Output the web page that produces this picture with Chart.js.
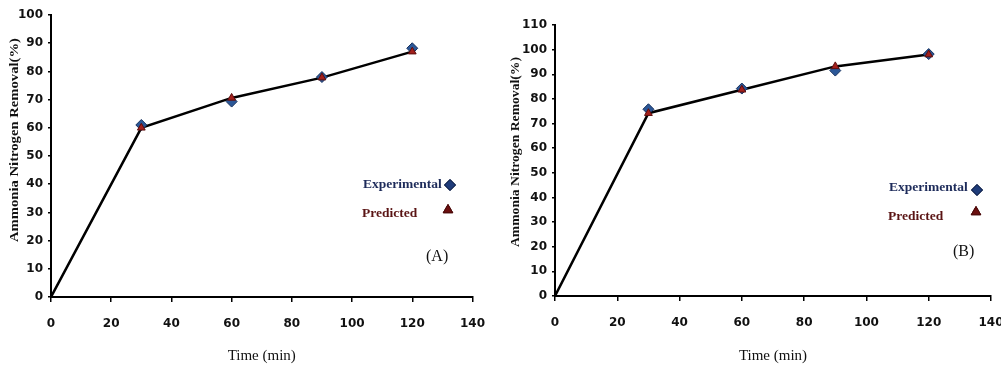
<!DOCTYPE html>
<html><head><meta charset="utf-8">
<script src="https://cdn.jsdelivr.net/npm/chart.js@4.4.1/dist/chart.umd.min.js"></script>
<style>
html,body{margin:0;padding:0;background:#fff;overflow:hidden}
#wrap{position:relative;width:1001px;height:366px;overflow:hidden}
canvas{position:absolute;top:0}
#cA{left:0}
#cB{left:500px}
</style></head><body>
<div id="wrap"><canvas id="cA" width="500" height="366"></canvas><canvas id="cB" width="530" height="366"></canvas></div>
<script>
// ---- data ----
const timeMin = [0, 30, 60, 90, 120];
const expA  = [0, 61.0, 69.3, 78.0, 88.2];
const predA = [0, 60.0, 70.6, 77.8, 87.0];
const expB  = [0, 75.8, 84.2, 91.5, 98.2];
const predB = [0, 74.2, 83.7, 93.2, 98.0];
const xTicks  = [0, 20, 40, 60, 80, 100, 120, 140];
const yTicksA = [0, 10, 20, 30, 40, 50, 60, 70, 80, 90, 100];
const yTicksB = [0, 10, 20, 30, 40, 50, 60, 70, 80, 90, 100, 110];
const seriesNames = ['Experimental', 'Predicted'];
const panelLabels = ['(A)', '(B)'];
const xTitle = 'Time (min)';
const yTitle = 'Ammonia Nitrogen Removal(%)';

const EXP_COL = '#2B5797', EXP_EDGE = '#16305e';
const PRED_COL = '#A3201C', PRED_EDGE = '#5e0d0d';

const annotPlugin = {
  id: 'annot',
  afterDraw(chart, args, o) {
    const ctx = chart.ctx;
    ctx.save();
    // y title, stretched along its length
    ctx.save();
    ctx.translate(o.yTitle.x, o.yTitle.y);
    ctx.rotate(-Math.PI / 2);
    ctx.font = 'bold 12px "Liberation Serif"';
    ctx.fillStyle = '#111';
    ctx.textAlign = 'center';
    ctx.textBaseline = 'middle';
    const w = ctx.measureText(yTitle).width;
    ctx.scale(o.yTitle.span / w, 1);
    ctx.fillText(yTitle, 0, 0);
    ctx.restore();
    // legend text
    ctx.font = 'bold 13.5px "Liberation Serif"';
    ctx.textAlign = 'left';
    ctx.textBaseline = 'middle';
    ctx.fillStyle = '#1d2b5a';
    ctx.fillText(seriesNames[0], o.exp.x, o.exp.y);
    ctx.fillStyle = '#5a1414';
    ctx.fillText(seriesNames[1], o.pred.x, o.pred.y);
    // legend markers
    ctx.fillStyle = '#1f3c7a'; ctx.strokeStyle = '#0f1f45'; ctx.lineWidth = 1;
    ctx.beginPath();
    Chart.helpers.drawPoint(ctx, {pointStyle: 'rectRot', radius: 5.5, borderWidth: 1, rotation: 0}, o.expM.x, o.expM.y);
    ctx.fill(); ctx.stroke();
    ctx.fillStyle = '#6b0f0f'; ctx.strokeStyle = '#4a0a0a';
    ctx.beginPath();
    Chart.helpers.drawPoint(ctx, {pointStyle: 'triangle', radius: 5.5, borderWidth: 1, rotation: 0}, o.predM.x, o.predM.y);
    ctx.fill(); ctx.stroke();
    // panel label
    ctx.font = '16px "Liberation Serif"';
    ctx.fillStyle = '#111';
    ctx.fillText(o.panel, o.lab.x, o.lab.y);
    ctx.restore();
  }
};

function makeChart(id, exp, pred, yMax, yTicks, L) {
  const pts = arr => timeMin.map((t, i) => ({x: t, y: arr[i]}));
  return new Chart(document.getElementById(id), {
    type: 'scatter',
    data: {
      datasets: [
        {type: 'line', label: 'fit', data: pts(pred), borderColor: '#000', borderWidth: 2.5,
         pointRadius: 0, fill: false, tension: 0, order: 3},
        {label: seriesNames[0], data: pts(exp), pointStyle: 'rectRot', pointRadius: c => c.dataIndex === 0 ? 0 : L.r,
         backgroundColor: EXP_COL, borderColor: EXP_EDGE, borderWidth: 1, order: 2},
        {label: seriesNames[1], data: pts(pred), pointStyle: 'triangle', pointRadius: c => c.dataIndex === 0 ? 0 : L.r - 1,
         backgroundColor: PRED_COL, borderColor: PRED_EDGE, borderWidth: 1, order: 1}
      ]
    },
    options: {
      responsive: false, animation: false, events: [],
      layout: {padding: L.pad},
      plugins: {legend: {display: false}, tooltip: {enabled: false}, annot: L.annot},
      scales: {
        x: {type: 'linear', min: 0, max: 140,
            afterBuildTicks: s => { s.ticks = xTicks.map(v => ({value: v})); },
            afterFit: s => { s.height = L.xH; },
            grid: {display: true, drawOnChartArea: false, drawTicks: true, tickLength: 5, color: '#000', lineWidth: 1.5},
            border: {display: true, color: '#000', width: 2},
            ticks: {color: '#111', padding: L.xPad, maxRotation: 0, font: {family: 'DejaVu Sans', size: 12, weight: 'bold'}},
            title: {display: true, text: xTitle, color: '#111', padding: {top: 0, bottom: 1},
                    font: {family: 'Liberation Serif', size: 15}}},
        y: {type: 'linear', min: 0, max: yMax,
            afterBuildTicks: s => { s.ticks = yTicks.map(v => ({value: v})); },
            afterFit: s => { s.width = L.yW; },
            grid: {display: true, drawOnChartArea: false, drawTicks: true, tickLength: 3, color: '#000', lineWidth: 1.5},
            border: {display: true, color: '#000', width: 2},
            ticks: {color: '#111', padding: 5, font: {family: 'DejaVu Sans', size: 12, weight: 'bold'}}}
      }
    },
    plugins: [annotPlugin]
  });
}

makeChart('cA', expA, predA, 100, yTicksA, {
  pad: {left: 0, top: 15, right: 22, bottom: 0}, yW: 51, xH: 69, xPad: 15, r: 5.5,
  annot: {yTitle: {x: 15, y: 140, span: 204}, exp: {x: 363, y: 185}, pred: {x: 362, y: 214},
          expM: {x: 450, y: 185}, predM: {x: 448, y: 210}, lab: {x: 426, y: 257}, panel: panelLabels[0]}
});
makeChart('cB', expB, predB, 110, yTicksB, {
  pad: {left: 0, top: 25, right: 39, bottom: 0}, yW: 55, xH: 70, xPad: 15, r: 5.5,
  annot: {yTitle: {x: 16, y: 152, span: 190}, exp: {x: 389, y: 188}, pred: {x: 388, y: 217},
          expM: {x: 477, y: 190}, predM: {x: 476, y: 212}, lab: {x: 453, y: 252}, panel: panelLabels[1]}
});
</script>
</body></html>
